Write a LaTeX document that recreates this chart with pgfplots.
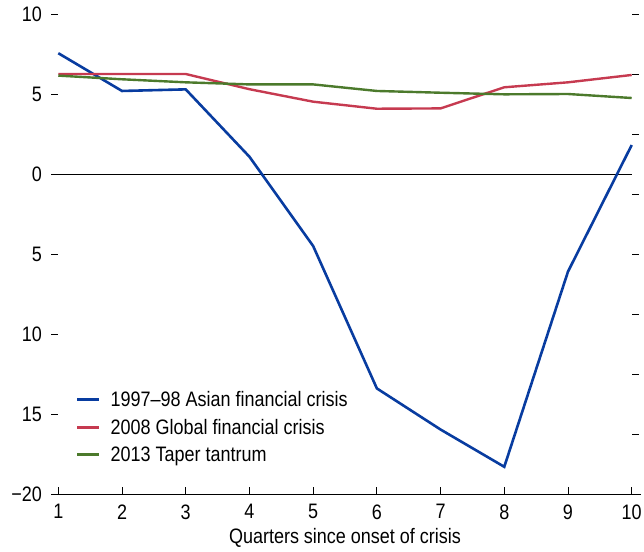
\documentclass[border=0pt]{standalone}
\usepackage{pgfplots}
\pgfplotsset{compat=1.18}
\usepackage{fontspec}
\setmainfont{Liberation Sans}[FakeStretch=0.86]
\newcommand\chartfont{\fontsize{21pt}{25pt}\selectfont}
\definecolor{cblue}{RGB}{8,60,160}
\definecolor{cred}{RGB}{198,58,80}
\definecolor{cgreen}{RGB}{76,122,44}
\begin{document}
\begin{tikzpicture}
\begin{axis}[
  at={(58.3bp,-494bp)}, anchor=south west,
  scale only axis, width=573.4bp, height=480bp,
  xmin=1, xmax=10, ymin=-20, ymax=10,
  axis x line*=bottom, axis y line*=left,
  x axis line style={-, line width=1bp, shorten <=-6bp, shorten >=-9bp},
  y axis line style={draw=none},
  tick align=inside,
  major tick length=7bp,
  xtick={1,...,10},
  ytick={-20,-15,...,10},
  yticklabels={−20,15,10,5,0,5,10},
  ytick style={xshift=-7bp, line width=0.8bp, black},
  xtick style={line width=0.8bp, black},
  tick label style={font=\chartfont},
  /pgf/number format/assume math mode=true,
  yticklabel style={xshift=-13bp},
  xticklabel style={yshift=-7bp},
  xlabel={Quarters since onset of crisis},
  xlabel style={font=\chartfont, yshift=-2bp},
  legend cell align=left,
  legend style={draw=none, fill=none, at={(0.031,0.218)}, anchor=north west,
    inner sep=0pt, outer sep=0pt, row sep=7bp, font=\chartfont},
  legend image code/.code={\draw[#1] (0bp,0bp) -- (22bp,0bp); \path (30bp,0bp);},
  clip=false,
]
\draw[black, line width=1bp] (axis cs:1,0) -- (axis cs:10,0);
\addplot[cblue, line width=2.6bp] coordinates {
(1,7.55) (2,5.19) (3,5.29) (4,1.08) (5,-4.5) (6,-13.4) (7,-15.97) (8,-18.3) (9,-6.1) (10,1.81)};
\addlegendentry{1997--98 Asian financial crisis}
\addplot[cred, line width=2.4bp] coordinates {
(1,6.25) (2,6.25) (3,6.25) (4,5.3) (5,4.52) (6,4.08) (7,4.1) (8,5.42) (9,5.73) (10,6.19)};
\addlegendentry{2008 Global financial crisis}
\addplot[cgreen, line width=2.4bp] coordinates {
(1,6.15) (2,5.92) (3,5.73) (4,5.6) (5,5.6) (6,5.19) (7,5.08) (8,4.98) (9,5.0) (10,4.75)};
\addlegendentry{2013 Taper tantrum}
\end{axis}
\begin{axis}[
  at={(58.3bp,-494bp)}, anchor=south west,
  scale only axis, width=573.4bp, height=480bp,
  xmin=1, xmax=10, ymin=0, ymax=8,
  axis x line=none, axis y line*=right,
  y axis line style={draw=none},
  tick align=inside,
  major tick length=7bp,
  ytick={0,...,8}, yticklabels={},
  ytick style={xshift=7bp, line width=0.8bp, black},
]
\end{axis}
\pgfresetboundingbox
\useasboundingbox (0,0) rectangle (644bp,-552bp);
\end{tikzpicture}
\end{document}
